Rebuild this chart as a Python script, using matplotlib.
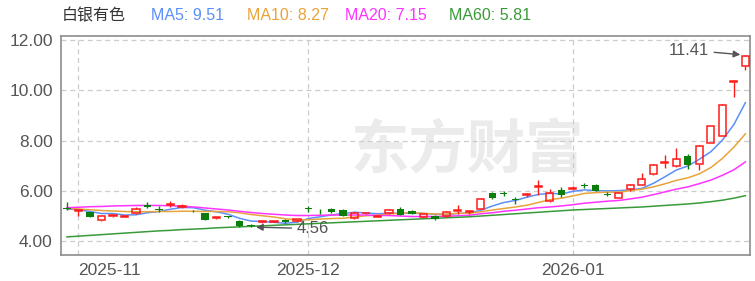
import pandas as pd
import matplotlib.pyplot as plt

plt.rcParams['font.family'] = ['Liberation Sans', 'Noto Sans CJK SC', 'DejaVu Sans']

# trading days 2025-10-31 .. 2026-01-26 (new year holiday removed)
days = pd.bdate_range('2025-10-31', '2026-01-26')
days = days[~days.isin(pd.to_datetime(['2026-01-01', '2026-01-02']))]

open_ = [5.30, 5.19, 5.15, 4.84, 5.00, 4.98, 5.12, 5.44, 5.27, 5.45,
         5.35, 5.21, 5.12, 4.93, 4.99, 4.82, 4.65, 4.77, 4.78, 4.86,
         4.79, 5.30, 5.18, 5.26, 5.25, 4.92, 5.11, 4.98, 5.12, 5.29,
         5.19, 4.96, 5.02, 4.99, 5.20, 5.16, 5.28, 5.91, 5.91, 5.67,
         5.82, 6.15, 5.58, 6.02, 6.08, 6.22, 6.25, 5.88, 5.72, 6.07,
         6.25, 6.67, 7.10, 6.97, 7.37, 7.08, 7.92, 8.19, 10.35, 10.96]
high = [5.55, 5.25, 5.16, 5.00, 5.05, 5.04, 5.36, 5.56, 5.39, 5.58,
        5.48, 5.24, 5.14, 4.97, 5.01, 4.84, 4.68, 4.80, 4.82, 4.88,
        4.90, 5.38, 5.26, 5.33, 5.27, 5.15, 5.14, 5.05, 5.28, 5.36,
        5.22, 5.10, 5.05, 5.20, 5.45, 5.22, 5.72, 5.95, 6.00, 5.75,
        5.90, 6.44, 6.09, 6.15, 6.20, 6.30, 6.27, 5.95, 5.93, 6.27,
        6.70, 7.06, 7.43, 7.70, 7.47, 7.82, 8.60, 9.45, 10.40, 11.41]
low = [5.24, 4.99, 4.95, 4.82, 4.97, 4.95, 5.10, 5.30, 5.15, 5.36,
       5.30, 5.16, 4.84, 4.90, 4.92, 4.58, 4.56, 4.74, 4.76, 4.74,
       4.78, 5.18, 5.08, 5.14, 4.99, 4.90, 5.08, 4.96, 5.10, 5.05,
       5.08, 4.94, 4.85, 4.97, 5.10, 5.10, 5.26, 5.68, 5.78, 5.48,
       5.75, 5.85, 5.55, 5.75, 6.02, 6.10, 5.98, 5.78, 5.70, 5.98,
       6.22, 6.64, 6.90, 6.95, 6.87, 6.84, 7.90, 8.17, 9.74, 10.80]
close = [5.27, 5.22, 4.97, 4.99, 5.03, 5.01, 5.27, 5.34, 5.25, 5.48,
         5.38, 5.19, 4.86, 4.95, 4.95, 4.62, 4.60, 4.79, 4.80, 4.75,
         4.88, 5.28, 5.16, 5.15, 5.02, 5.13, 5.12, 5.02, 5.24, 5.06,
         5.10, 5.09, 4.88, 5.18, 5.24, 5.19, 5.67, 5.71, 5.88, 5.64,
         5.86, 6.19, 5.91, 5.82, 6.11, 6.19, 6.01, 5.85, 5.91, 6.25,
         6.47, 7.04, 7.13, 7.27, 7.04, 7.80, 8.58, 9.43, 10.37, 11.37]

ma5 = [5.28, 5.25, 5.18, 5.10, 5.10, 5.04, 5.05, 5.13, 5.18, 5.27,
       5.34, 5.33, 5.23, 5.17, 5.07, 4.91, 4.80, 4.78, 4.75, 4.71,
       4.76, 4.90, 4.97, 5.04, 5.10, 5.15, 5.12, 5.09, 5.11, 5.11,
       5.11, 5.10, 5.07, 5.06, 5.10, 5.12, 5.23, 5.40, 5.54, 5.62,
       5.75, 5.86, 5.90, 5.88, 5.98, 6.04, 6.01, 6.00, 6.01, 6.04,
       6.10, 6.30, 6.56, 6.83, 6.99, 7.26, 7.56, 8.02, 8.64, 9.51]
ma10 = [5.30, 5.28, 5.25, 5.22, 5.20, 5.18, 5.17, 5.17, 5.18, 5.18,
        5.19, 5.19, 5.18, 5.18, 5.17, 5.13, 5.06, 5.01, 4.96, 4.89,
        4.84, 4.85, 4.88, 4.90, 4.91, 4.96, 5.01, 5.03, 5.08, 5.11,
        5.13, 5.11, 5.08, 5.08, 5.11, 5.11, 5.17, 5.24, 5.30, 5.36,
        5.43, 5.54, 5.65, 5.71, 5.80, 5.90, 5.93, 5.95, 5.95, 6.01,
        6.07, 6.16, 6.28, 6.42, 6.52, 6.68, 6.93, 7.29, 7.74, 8.27]
ma20 = [5.33, 5.35, 5.37, 5.38, 5.40, 5.41, 5.42, 5.42, 5.42, 5.41,
        5.39, 5.36, 5.32, 5.28, 5.24, 5.19, 5.14, 5.10, 5.07, 5.04,
        5.02, 5.02, 5.03, 5.04, 5.04, 5.04, 5.04, 5.02, 5.02, 5.00,
        4.98, 4.98, 4.98, 4.99, 5.01, 5.03, 5.09, 5.13, 5.19, 5.23,
        5.28, 5.33, 5.36, 5.40, 5.45, 5.51, 5.55, 5.59, 5.62, 5.68,
        5.75, 5.85, 5.96, 6.07, 6.16, 6.29, 6.43, 6.62, 6.84, 7.15]
ma60 = [4.17, 4.20, 4.23, 4.26, 4.29, 4.32, 4.35, 4.38, 4.41, 4.43,
        4.46, 4.48, 4.50, 4.53, 4.55, 4.57, 4.59, 4.61, 4.63, 4.65,
        4.67, 4.69, 4.71, 4.73, 4.75, 4.77, 4.79, 4.81, 4.83, 4.85,
        4.87, 4.89, 4.91, 4.93, 4.95, 4.97, 5.00, 5.03, 5.06, 5.09,
        5.12, 5.15, 5.18, 5.21, 5.24, 5.26, 5.28, 5.30, 5.32, 5.34,
        5.36, 5.39, 5.42, 5.45, 5.48, 5.52, 5.57, 5.63, 5.71, 5.81]

name = '白银有色'
ma_names = ['MA5', 'MA10', 'MA20', 'MA60']
ma_colors = ['#5b8ff9', '#e8a33a', '#ff33ff', '#3a9a3a']
up_color = '#ff1a1a'
down_color = '#0a7d0a'

df = pd.DataFrame({'open': open_, 'high': high, 'low': low, 'close': close,
                   'ma5': ma5, 'ma10': ma10, 'ma20': ma20, 'ma60': ma60}, index=days)
x = list(range(len(df)))

fig = plt.figure(figsize=(7.55, 2.81), dpi=100)
ax = fig.add_axes([61 / 755, 1 - 255 / 281, 689 / 755, 219 / 281])

# moving averages
for col, c in zip(['ma5', 'ma10', 'ma20', 'ma60'], ma_colors):
    ax.plot(x, df[col], color=c, lw=1.1, zorder=3)

# candles
w = 0.62
for i, (o, h, l, c) in enumerate(zip(df['open'], df['high'], df['low'], df['close'])):
    top, bot = max(o, c), min(o, c)
    body = max(top - bot, 0.015)
    if c >= o:
        ax.vlines(i, top, h, color=up_color, lw=1, zorder=4)
        ax.vlines(i, l, bot, color=up_color, lw=1, zorder=4)
        ax.bar(i, body, w, bottom=bot, facecolor='none', edgecolor=up_color, lw=1.1, zorder=4)
    else:
        ax.vlines(i, l, h, color=down_color, lw=1, zorder=4)
        ax.bar(i, body, w, bottom=bot, color=down_color, lw=0, zorder=4)

ax.set_xlim(-0.52, 59.4)
ax.set_ylim(3.45, 12.16)

# watermark
ax.text(0.59, 0.47, '东方财富', transform=ax.transAxes, ha='center', va='center',
        fontsize=42, fontweight='bold', color='#ebebeb', zorder=0,
        family=['Noto Sans CJK SC'])

# axes styling
ax.set_yticks([4, 6, 8, 10, 12])
ax.set_yticklabels(['%.2f' % v for v in [4, 6, 8, 10, 12]])
month_first = [df.index.get_loc(g.index[0]) for _, g in df.groupby(df.index.to_period('M'))][1:]
ax.set_xticks(month_first)
ax.set_xticklabels([df.index[i].strftime('%Y-%m') for i in month_first])
ax.get_xticklabels()[0].set_horizontalalignment('left')
ax.tick_params(length=0, labelsize=12.5, colors='#555555', pad=6)
ax.tick_params(axis='x', pad=6)
ax.grid(True, ls=(0, (4, 3)), color='#cccccc', lw=0.9, zorder=0)
for s in ax.spines.values():
    s.set_color('#8c8c8c')
    s.set_linewidth(1.2)

# high / low marks
imax = df['high'].idxmax()
imin = df['low'].idxmin()
ax.annotate('%.2f' % df['high'].max(), xy=(df.index.get_loc(imax) - 0.2, df['high'].max()),
            xytext=(55.8, 11.6), ha='right', va='center', fontsize=12, color='#555555',
            arrowprops=dict(arrowstyle='-|>', color='#555555', lw=1, mutation_scale=10))
ax.annotate('%.2f' % df['low'].min(), xy=(df.index.get_loc(imin) + 0.2, df['low'].min()),
            xytext=(20.0, 4.5), ha='left', va='center', fontsize=12, color='#555555',
            arrowprops=dict(arrowstyle='-|>', color='#555555', lw=1, mutation_scale=10))

# legend line
fig.text(62 / 755, 1 - 16 / 281, name, fontsize=11.5, color='#333333', va='center',
         family=['Noto Sans CJK SC'])
lx = [151, 247, 345, 449]
for px, n, col, c in zip(lx, ma_names, ['ma5', 'ma10', 'ma20', 'ma60'], ma_colors):
    fig.text(px / 755, 1 - 16 / 281, '%s: %.2f' % (n, df[col].iloc[-1]), fontsize=11.5,
             color=c, va='center')

plt.savefig('out.png', dpi=100)
plt.close()
